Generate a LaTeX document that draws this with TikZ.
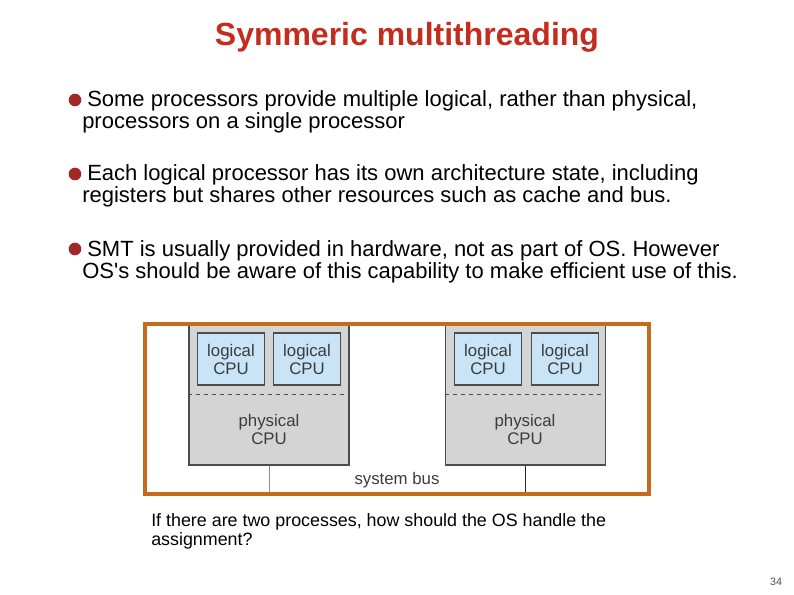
\documentclass[tikz,border=0pt]{standalone}
\usepackage{fontspec}
\setmainfont{Liberation Sans}
\definecolor{titlered}{RGB}{196,44,30}
\definecolor{dotred}{RGB}{160,40,40}
\definecolor{frameor}{RGB}{196,108,28}
\definecolor{cpugray}{RGB}{212,212,212}
\definecolor{logblue}{RGB}{200,228,246}
\definecolor{diagtext}{RGB}{60,60,60}
\tikzset{
  bodytext/.style={anchor=base west, inner sep=0pt, font=\fontsize{16.5}{20}\selectfont},
  captext/.style={anchor=base west, inner sep=0pt, font=\fontsize{13.4}{14.5}\selectfont},
  bulletdot/.style={circle, fill=dotred, inner sep=0pt, minimum size=9.5pt},
  cpubox/.style={draw=black!70, line width=0.8pt, fill=cpugray, minimum width=120pt, minimum height=105.75pt, inner sep=0pt},
  logbox/.style={draw=black!70, line width=0.8pt, fill=logblue, minimum width=50pt, minimum height=39pt, inner sep=0pt, align=center, text=diagtext, font=\fontsize{12.6}{13.5}\selectfont},
  diaglabel/.style={inner sep=0pt, align=center, text=diagtext, font=\fontsize{12.6}{13.5}\selectfont},
  framebox/.style={draw=frameor, line width=3pt, minimum width=378pt, minimum height=127.5pt, inner sep=0pt},
}
\begin{document}
\begin{tikzpicture}[x=0.75pt,y=-0.75pt]
\useasboundingbox (0,0) rectangle (794,595);
% title
\node[anchor=base, inner sep=0pt, text=titlered, font=\bfseries\fontsize{24}{27}\selectfont] (title) at (407,46) {Symmeric multithreading};
% bullets
\node[bulletdot] (d1) at (75,100) {};
\node[bodytext] (b1a) at (87,107) {Some processors provide multiple logical, rather than physical,};
\node[bodytext] (b1b) at (82,129) {processors on a single processor};
\node[bulletdot] (d2) at (75,174) {};
\node[bodytext] (b2a) at (87,181) {Each logical processor has its own architecture state, including};
\node[bodytext] (b2b) at (82,203) {registers but shares other resources such as cache and bus.};
\node[bulletdot] (d3) at (75,249) {};
\node[bodytext] (b3a) at (87,257) {SMT is usually provided in hardware, not as part of OS. However};
\node[bodytext] (b3b) at (82,279) {OS\textquotesingle s should be aware of this capability to make efficient use of this.};
% diagram
\node[cpubox] (cpuL) at (269,394.5) {};
\node[cpubox] (cpuR) at (525.5,394.5) {};
\node[logbox] (l1) at (231,359) {logical\\CPU};
\node[logbox] (l2) at (307,359) {logical\\CPU};
\node[logbox] (r1) at (488,359) {logical\\CPU};
\node[logbox] (r2) at (565,359) {logical\\CPU};
\draw[dashed, black!70, line width=0.7pt] (cpuL.west |- 0,394) -- (cpuL.east |- 0,394);
\draw[dashed, black!70, line width=0.7pt] (cpuR.west |- 0,394) -- (cpuR.east |- 0,394);
\node[diaglabel] (pL) at (269,429) {physical\\CPU};
\node[diaglabel] (pR) at (525,429) {physical\\CPU};
\node[framebox] (frame) at (397,409) {};
\coordinate (busL) at (269,492);
\coordinate (busR) at (525,492);
\draw[black!45, line width=0.6pt] (cpuL.south) -- (busL);
\draw[black!85, line width=0.6pt] (cpuR.south -| busR) -- (busR);
\node[diaglabel] (bus) at (397,480) {system bus};
% caption
\node[captext] (cap1) at (151,527) {If there are two processes, how should the OS handle the};
\node[captext] (cap2) at (151,546) {assignment?};
\node[anchor=base, inner sep=0pt, text=black!70, font=\fontsize{8}{9}\selectfont] (pg) at (776,586) {34};
\end{tikzpicture}
\end{document}
